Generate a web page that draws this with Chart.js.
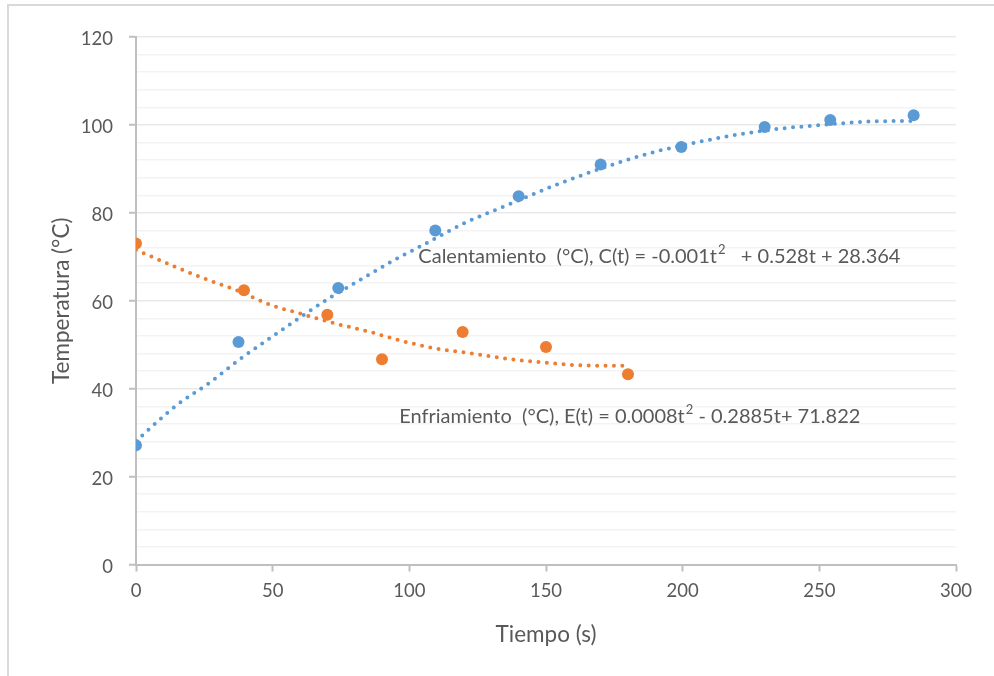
<!DOCTYPE html>
<html><head><meta charset="utf-8">
<script src="https://cdn.jsdelivr.net/npm/chart.js@4.4.0/dist/chart.umd.min.js"></script>
<style>html,body{margin:0;padding:0;background:#fff;overflow:hidden}</style>
</head><body>
<canvas id="c" width="994" height="676" style="display:block;width:994px;height:676px"></canvas>
<script>
// ---- data ----
const calT = [0, 37.5, 74, 109.5, 140, 170, 199.5, 230, 254, 284.5];
const calY = [27.1, 50.6, 62.9, 76.0, 83.8, 91.0, 95.0, 99.5, 101.1, 102.2];
const enfT = [0, 39.5, 70, 90, 119.5, 150, 180];
const enfY = [73.0, 62.4, 56.8, 46.7, 52.9, 49.5, 43.3];
// trendlines as drawn in the reference
const calTrendT = [0, 15, 27, 38, 49, 60, 71, 83, 94, 105, 120, 138, 153, 166, 178, 190, 208, 221, 235, 247, 259, 270, 284];
const calTrendY = [28.1, 36.3, 41.4, 46.7, 51.5, 56.2, 60.7, 65.1, 69.1, 72.7, 77.6, 82.3, 86.2, 89.2, 91.7, 93.9, 96.4, 97.9, 99.1, 99.8, 100.4, 100.8, 100.9];
const enfTrendT = [0, 14, 26, 38, 49, 60, 73, 85, 97, 110, 123, 136, 150, 163, 180];
const enfTrendY = [71.6, 67.8, 64.8, 62.1, 59.1, 57.1, 54.8, 53.0, 50.9, 49.1, 48.0, 46.8, 45.9, 45.3, 45.2];
const xTicks = [0, 50, 100, 150, 200, 250, 300];
const yTicks = [0, 20, 40, 60, 80, 100, 120];
const yMinorStep = 4;
const xTitle = 'Tiempo (s)';
const yTitle = 'Temperatura (°C)';
const calLabel = ['Calentamiento  (°C), C(t) = -0.001t', '2', '   + 0.528t + 28.364'];
const enfLabel = ['Enfriamiento  (°C), E(t) = 0.0008t', '2', ' - 0.2885t+ 71.822'];

const BLUE = '#5b9bd5', ORANGE = '#ed7d31', TXT = '#595959', AXIS = '#bfbfbf';
const FONT = 'Lato, "Open Sans", sans-serif';

const pts = (xs, ys) => xs.map((x, i) => ({x, y: ys[i]}));

const decor = {
  id: 'decor',
  beforeDraw(chart) {
    const ctx = chart.ctx;
    ctx.save();
    ctx.fillStyle = '#fff';
    ctx.fillRect(0, 0, chart.width, chart.height);
    ctx.strokeStyle = '#d9d9d9';
    ctx.lineWidth = 2;
    ctx.strokeRect(8, 5, 1100, 800);
    ctx.restore();
  },
  afterDraw(chart) {
    const ctx = chart.ctx, xs = chart.scales.x, ys = chart.scales.y;
    const drawLabel = (parts, tx, ty) => {
      let x = xs.getPixelForValue(tx), y = ys.getPixelForValue(ty);
      ctx.save();
      ctx.fillStyle = TXT;
      ctx.textBaseline = 'alphabetic';
      ctx.textAlign = 'left';
      ctx.font = '20px ' + FONT;
      ctx.fillText(parts[0], x, y);
      x += ctx.measureText(parts[0]).width;
      ctx.font = '13px ' + FONT;
      ctx.fillText(parts[1], x + 1, y - 9);
      x += ctx.measureText(parts[1]).width + 1;
      ctx.font = '20px ' + FONT;
      ctx.fillText(parts[2], x, y);
      ctx.restore();
    };
    drawLabel(calLabel, 103.3, 68.6);
    drawLabel(enfLabel, 96.3, 32.3);
  }
};

function build() {
  Chart.defaults.font.family = FONT;
  Chart.defaults.color = TXT;
  new Chart(document.getElementById('c'), {
    type: 'scatter',
    data: {
      datasets: [
        {label: 'Calentamiento (°C)', data: pts(calT, calY), backgroundColor: BLUE, borderColor: BLUE, pointRadius: 6, pointHoverRadius: 6, borderWidth: 0},
        {label: 'Enfriamiento (°C)', data: pts(enfT, enfY), backgroundColor: ORANGE, borderColor: ORANGE, pointRadius: 6, pointHoverRadius: 6, borderWidth: 0},
        {label: 'Tendencia C', data: pts(calTrendT, calTrendY), showLine: true, pointRadius: 0, borderColor: BLUE, borderWidth: 4, borderDash: [0, 8.4], borderCapStyle: 'round', cubicInterpolationMode: 'monotone', fill: false},
        {label: 'Tendencia E', data: pts(enfTrendT, enfTrendY), showLine: true, pointRadius: 0, borderColor: ORANGE, borderWidth: 4, borderDash: [0, 8.4], borderCapStyle: 'round', cubicInterpolationMode: 'monotone', fill: false}
      ]
    },
    options: {
      responsive: false,
      animation: false,
      events: [],
      layout: {padding: {left: 0, top: 37, right: 38, bottom: 0}},
      plugins: {legend: {display: false}, tooltip: {enabled: false}},
      scales: {
        x: {
          type: 'linear', min: 0, max: 300,
          afterBuildTicks: s => { s.ticks = xTicks.map(v => ({value: v})); },
          afterFit: s => { s.height = 676 - 564.5; },
          grid: {drawOnChartArea: false, drawTicks: true, tickLength: 7, tickColor: AXIS, tickWidth: 2},
          border: {display: true, color: AXIS, width: 2},
          ticks: {autoSkip: false, maxRotation: 0, padding: 8, font: {size: 18.5}, color: TXT},
          title: {display: true, text: xTitle, font: {size: 22.5}, color: TXT, padding: {top: 0, bottom: 28}}
        },
        y: {
          type: 'linear', min: 0, max: 120,
          afterBuildTicks: s => {
            const t = [];
            for (let v = 0; v <= 120; v += yMinorStep) t.push({value: v});
            s.ticks = t;
          },
          afterFit: s => { s.width = 136; },
          grid: {
            drawTicks: true, tickLength: 7, tickWidth: 2,
            color: c => (yTicks.includes(c.tick.value) ? '#e9e9e9' : '#f3f3f3'),
            lineWidth: 1.5,
            tickColor: c => (yTicks.includes(c.tick.value) ? AXIS : 'rgba(0,0,0,0)')
          },
          border: {display: true, color: AXIS, width: 2},
          ticks: {autoSkip: false, padding: 16, labelOffset: 2.5, font: {size: 18.5}, color: TXT,
            callback: v => (yTicks.includes(v) ? String(v) : '')},
          title: {display: true, text: yTitle, font: {size: 22.5}, color: TXT, padding: {top: 48, bottom: 0}}
        }
      }
    },
    plugins: [decor]
  });
}
if (document.fonts && document.fonts.load) {
  Promise.all([document.fonts.load('18px Lato')]).then(build, build);
} else build();
</script>
</body></html>
